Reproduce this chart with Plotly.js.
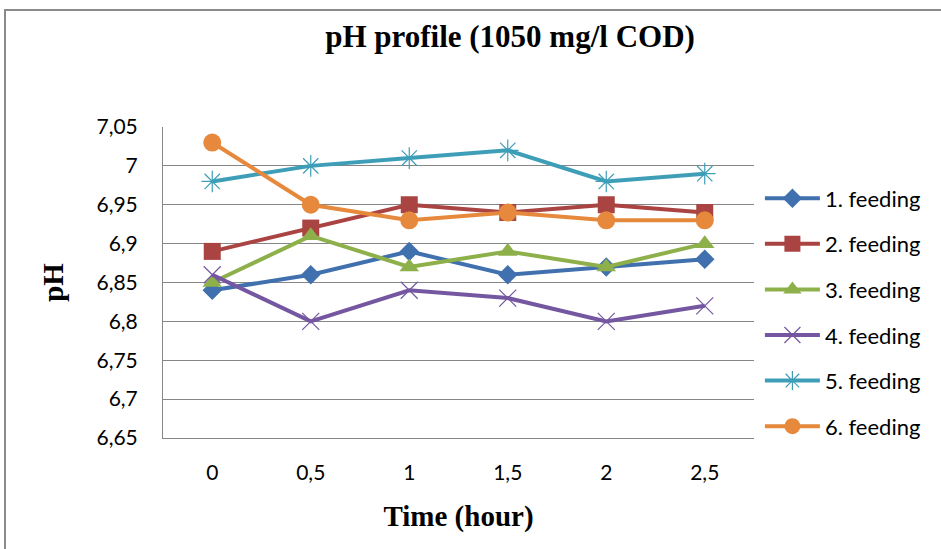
<!DOCTYPE html>
<html>
<head>
<meta charset="utf-8">
<script src="https://cdn.plot.ly/plotly-3.0.1.min.js"></script>
<style>
html,body{margin:0;padding:0;background:#fff;}
#wrap{position:relative;width:941px;height:549px;}
#chart{width:941px;height:549px;}
#frame{position:absolute;left:4px;top:9px;width:960px;height:560px;border-left:2px solid #8a8a8a;border-top:2px solid #8a8a8a;pointer-events:none;}
</style>
</head>
<body>
<div id="wrap"><div id="chart"></div><div id="frame"></div></div>
<script>
const categories = ["0", "0,5", "1", "1,5", "2", "2,5"];
const seriesNames = ["1. feeding", "2. feeding", "3. feeding", "4. feeding", "5. feeding", "6. feeding"];
const feeding1 = [6.84, 6.86, 6.89, 6.86, 6.87, 6.88];
const feeding2 = [6.89, 6.92, 6.95, 6.94, 6.95, 6.94];
const feeding3 = [6.85, 6.91, 6.87, 6.89, 6.87, 6.90];
const feeding4 = [6.86, 6.80, 6.84, 6.83, 6.80, 6.82];
const feeding5 = [6.98, 7.00, 7.01, 7.02, 6.98, 6.99];
const feeding6 = [7.03, 6.95, 6.93, 6.94, 6.93, 6.93];
const yTickVals = [6.65, 6.7, 6.75, 6.8, 6.85, 6.9, 6.95, 7, 7.05];
const yTickText = ["6,65", "6,7", "6,75", "6,8", "6,85", "6,9", "6,95", "7", "7,05"];

const seriesValues = [feeding1, feeding2, feeding3, feeding4, feeding5, feeding6];
const colors = ["#4070AD", "#AA4442", "#8DB04A", "#7457A0", "#3E9EB8", "#E6893D"];
const symbols = ["diamond", "square", "triangle-up", "x-thin-open", "asterisk-open", "circle"];
const sizes = [15, 17, 17, 17, 18, 18];

const traces = seriesValues.map((vals, i) => ({
  type: "scatter",
  mode: "lines+markers",
  name: seriesNames[i],
  x: categories,
  y: vals,
  legendgroup: "g" + i,
  line: {color: colors[i], width: 4},
  marker: {symbol: symbols[i], size: sizes[i], color: colors[i],
           line: {color: colors[i], width: (i === 3 || i === 4) ? 1.2 : 0}}
}));

const layout = {
  width: 941, height: 549,
  paper_bgcolor: "#fff", plot_bgcolor: "#fff",
  margin: {l: 163, r: 187, t: 127, b: 111},
  title: {text: "pH profile (1050 mg/l COD)", x: 0.542, xanchor: "center", y: 0.935, yanchor: "middle",
          font: {family: "Liberation Serif", size: 31, color: "#000", weight: "bold"}},
  font: {family: "Lato", color: "#000"},
  xaxis: {type: "category", range: [-0.5, 5.5], showgrid: false, showline: true, linecolor: "#868686", linewidth: 1,
          ticks: "", tickfont: {family: "Lato", size: 21, color: "#000"}, ticklabelstandoff: 16,
          title: {text: "Time (hour)", standoff: 22, font: {family: "Liberation Serif", size: 29, color: "#000", weight: "bold"}},
          zeroline: false},
  yaxis: {range: [6.65, 7.05], tickvals: yTickVals, ticktext: yTickText, showgrid: true, gridcolor: "#868686", gridwidth: 1,
          showline: true, linecolor: "#868686", linewidth: 1, ticks: "", zeroline: false,
          tickfont: {family: "Lato", size: 21, color: "#000"}, ticklabelstandoff: 20,
          title: {text: "pH", standoff: 24, font: {family: "Liberation Serif", size: 29, color: "#000", weight: "bold"}}},
  legend: {x: 1.01, xanchor: "left", y: 0.838, yanchor: "top", tracegroupgap: 14,
           font: {family: "Lato", size: 22, color: "#000"}, bgcolor: "rgba(0,0,0,0)", itemwidth: 55}
};

Plotly.newPlot("chart", traces, layout, {displayModeBar: false, staticPlot: true});
</script>
</body>
</html>
